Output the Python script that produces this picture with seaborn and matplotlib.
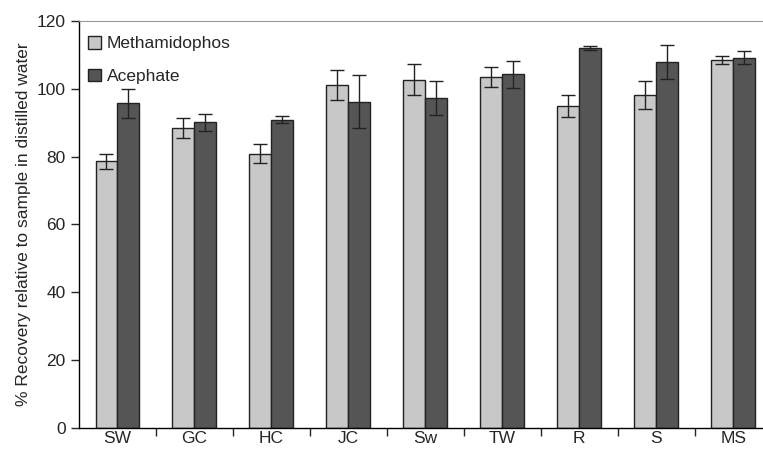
import numpy as np
import pandas as pd
import matplotlib
matplotlib.use('Agg')
import matplotlib.pyplot as plt
import seaborn as sns

# data
sites = ['SW', 'GC', 'HC', 'JC', 'Sw', 'TW', 'R', 'S', 'MS']
metha = [78.6, 88.4, 80.8, 101.1, 102.7, 103.5, 94.9, 98.2, 108.5]
metha_err = [2.1, 3.0, 2.8, 4.5, 4.6, 2.9, 3.2, 4.1, 1.1]
aceph = [95.7, 90.1, 90.9, 96.2, 97.3, 104.3, 112.0, 108.0, 109.2]
aceph_err = [4.3, 2.5, 1.0, 7.8, 5.0, 4.0, 0.6, 5.0, 2.0]
series = ['Methamidophos', 'Acephate']

df = pd.DataFrame({
    'site': sites * 2,
    'compound': [series[0]] * len(sites) + [series[1]] * len(sites),
    'recovery': metha + aceph,
})

sns.set_style('white')
plt.rcParams['font.family'] = ['Liberation Sans', 'DejaVu Sans']

fig = plt.figure(figsize=(7.63, 4.49), dpi=100)
ax = fig.add_axes([0.1035, 0.047, 0.908, 0.906])

ax = sns.barplot(data=df, x='site', y='recovery', hue='compound',
                 palette=['#c8c8c8', '#555555'], width=0.57,
                 edgecolor='#222222', linewidth=1.0, errorbar=None,
                 saturation=1, ax=ax)

# error bars on each bar
xs = np.arange(len(sites))
off = 0.57 / 4
ax.errorbar(xs - off, metha, yerr=metha_err, fmt='none', ecolor='#222222',
            elinewidth=1.0, capsize=5, capthick=1.0)
ax.errorbar(xs + off, aceph, yerr=aceph_err, fmt='none', ecolor='#222222',
            elinewidth=1.0, capsize=5, capthick=1.0)

ax.set_xlim(-0.5, len(sites) - 0.5)
ax.set_ylim(0, 120)
ax.set_yticks(range(0, 121, 20))
ax.set_xticks(xs)
ax.set_xticks(np.arange(len(sites)) + 0.5, minor=True)
ax.tick_params(axis='x', which='major', length=0, labelsize=12.5, pad=2)
ax.tick_params(axis='x', which='minor', length=6, width=1, direction='out', bottom=True)
ax.tick_params(axis='y', length=6, width=1, direction='out', left=True, labelsize=12.5)

ax.set_xlabel('')
ax.set_ylabel('% Recovery relative to sample in distilled water', fontsize=12.5)

for s in ['left', 'bottom']:
    ax.spines[s].set_color('black')
    ax.spines[s].set_linewidth(1.0)
ax.spines['top'].set_color('#999999')
ax.spines['right'].set_visible(False)

leg = ax.legend(loc='upper left', bbox_to_anchor=(0.0, 0.985), frameon=False,
                fontsize=12.5, handlelength=0.75, handleheight=0.75,
                labelspacing=1.0, handletextpad=0.35, borderpad=0.2,
                borderaxespad=0.3, title=None)

fig.savefig('out.png', dpi=100)
